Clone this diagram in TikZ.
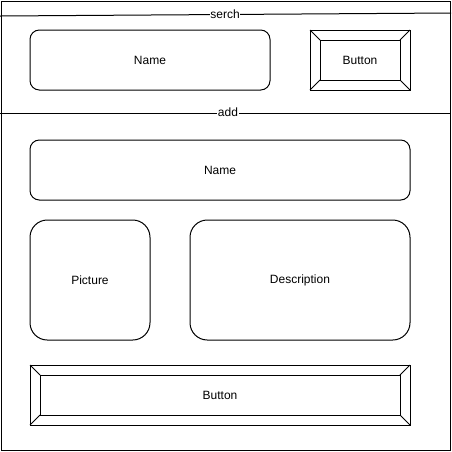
\documentclass[tikz,border=0pt]{standalone}
\usepackage{fontspec}
\setmainfont{Liberation Sans}
\begin{document}
\begin{tikzpicture}[x=0.75pt,y=-0.75pt,line width=0.75pt,
  every node/.style={font=\fontsize{9}{11}\selectfont},
  box/.style={draw,rounded corners=#1,inner sep=0pt},
  box/.default=7pt,
  lbl/.style={fill=white,inner sep=0.5pt}]
\useasboundingbox (0,0) rectangle (452,451);
\draw (1,1) rectangle (450,450);
% separators
\coordinate (s1) at (0,16);
\coordinate (s2) at (451,13);
\draw (s1) -- (s2);
\node[lbl] (serch) at (225,14.5) {serch};
\coordinate (a1) at (0,113);
\coordinate (a2) at (451,113);
\draw (a1) -- (a2);
\node[lbl] (add) at (228,112) {add};
% search section
\draw[box] (30,30) rectangle (270,90);
\node (name1) at (150,60) {Name};
% button 1
\draw (310,30) rectangle (410,90);
\draw (320,40) rectangle (400,80);
\draw (310,30) -- (320,40) (410,30) -- (400,40) (310,90) -- (320,80) (410,90) -- (400,80);
\node (btn1) at (360,60) {Button};
% add section
\draw[box] (30,140) rectangle (410,200);
\node (name2) at (220,170) {Name};
\draw[box=13pt] (30,220) rectangle (150,340);
\node (pic) at (90,280) {Picture};
\draw[box=13pt] (190,220) rectangle (410,340);
\node (desc) at (300,280) {Description};
% button 2
\draw (30,365) rectangle (410,425);
\draw (40,375) rectangle (400,415);
\draw (30,365) -- (40,375) (410,365) -- (400,375) (30,425) -- (40,415) (410,425) -- (400,415);
\node (btn2) at (220,395) {Button};
\end{tikzpicture}
\end{document}
